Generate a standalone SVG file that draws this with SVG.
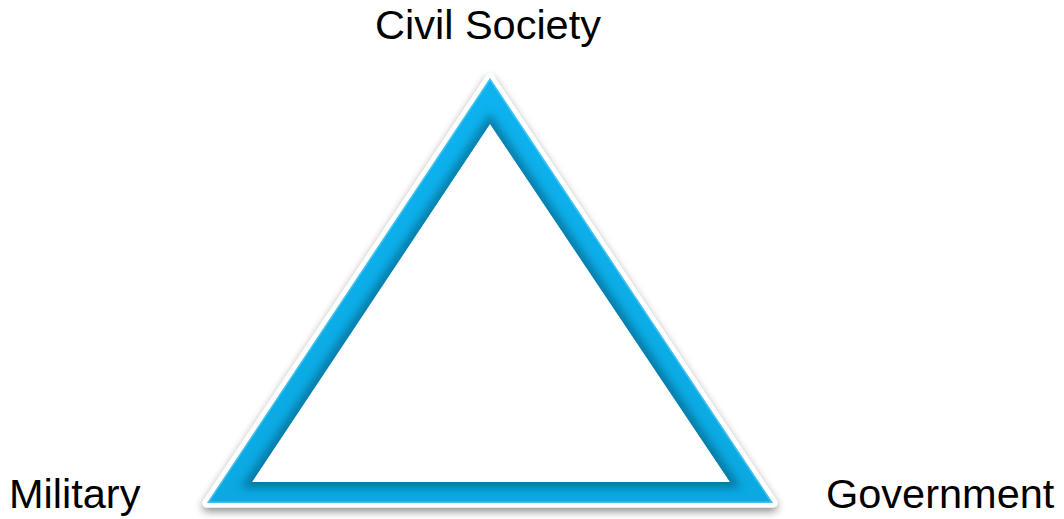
<svg xmlns="http://www.w3.org/2000/svg" width="1064" height="519" viewBox="0 0 1064 519">
<defs>
<style>
.lbl{font-family:"Liberation Sans",Arial,sans-serif;font-size:41.5px;fill:#000}
</style>
<filter id="sh" x="-10%" y="-10%" width="120%" height="125%">
<feGaussianBlur in="SourceAlpha" stdDeviation="4"/>
<feOffset dx="0" dy="4" result="b"/>
<feComponentTransfer><feFuncA type="linear" slope="0.45"/></feComponentTransfer>
<feMerge><feMergeNode/><feMergeNode in="SourceGraphic"/></feMerge>
</filter>
<filter id="bl" x="-10%" y="-10%" width="120%" height="120%"><feGaussianBlur stdDeviation="4"/></filter>
<filter id="bl2" x="-10%" y="-10%" width="120%" height="120%"><feGaussianBlur stdDeviation="2"/></filter>
<clipPath id="ringClip"><path clip-rule="evenodd" d="M490,78 L773,503 L207,503 Z M490,124 L252,482 L730,482 Z"/></clipPath>
<linearGradient id="g" x1="0" y1="0" x2="0" y2="1">
<stop offset="0" stop-color="#0db2ef"/>
<stop offset="1" stop-color="#0aa9e2"/>
</linearGradient>
</defs>
<g id="triangle">
<path d="M490,78 L773,503 L207,503 Z" fill="#fff" stroke="#fff" stroke-width="9" stroke-linejoin="round" filter="url(#sh)"/>
<path fill-rule="evenodd" fill="url(#g)" d="M490,78 L773,503 L207,503 Z M490,124 L252,482 L730,482 Z"/>
<g clip-path="url(#ringClip)">
<path d="M490,124 L252,482 L730,482 Z" fill="none" stroke="#05506e" stroke-width="12" stroke-opacity="0.55" filter="url(#bl)"/>
<path d="M207,503 L773,503" stroke="#063f58" stroke-width="6" stroke-opacity="0.6" filter="url(#bl2)"/>
<path d="M490,78 L773,503 L207,503 Z" fill="none" stroke="#7fd8f7" stroke-width="3" stroke-opacity="0.5"/>
</g>
</g>
<g id="connectors"/>
<g id="labels">
<text id="civil" class="lbl" x="488" y="39" text-anchor="middle">Civil Society</text>
<text id="military" class="lbl" x="9" y="508">Military</text>
<text id="government" class="lbl" x="826" y="508">Government</text>
</g>
</svg>
